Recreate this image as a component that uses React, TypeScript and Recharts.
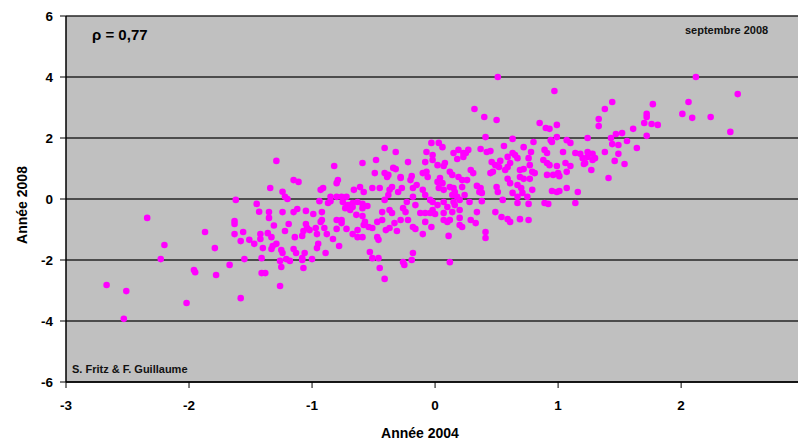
import React from "react";
import {
  ScatterChart,
  Scatter,
  XAxis,
  YAxis,
  CartesianGrid,
} from "recharts";

// [Année 2004, Année 2008] pairs, grouped by region
const lowTail: [number, number][] = [
  [-2.67, -2.82], [-2.51, -3.02], [-2.53, -3.93], [-2.34, -0.62], [-2.23, -1.97],
  [-2.2, -1.51], [-2.02, -3.41], [-1.96, -2.33], [-1.95, -2.4], [-1.87, -1.08],
  [-1.79, -1.61], [-1.78, -2.49], [-1.67, -2.16], [-1.62, -0.03], [-1.63, -0.82],
  [-1.63, -0.72], [-1.63, -1.15], [-1.58, -3.25], [-1.58, -1.38], [-1.55, -1.97],
  [-1.56, -1.08], [-1.51, -1.34], [-1.47, -1.47], [-1.45, -0.16], [-1.43, -0.42],
  [-1.41, -1.94], [-1.41, -2.43], [-1.38, -2.43], [-1.42, -1.15], [-1.42, -1.31],
  [-1.4, -1.61], [-1.36, -1.12], [-1.33, -1.25], [-1.34, 0.36], [-1.35, -0.43],
  [-1.35, -0.62], [-1.31, -0.87], [-1.32, -1.54], [-1.29, -1.47], [-1.33, -1.64],
  [-1.29, 1.25],
];

const coreLeft: [number, number][] = [
  [-1.25, -1.67], [-1.24, -1.77], [-1.26, -2.85], [-1.25, -2.23], [-1.26, -2.03],
  [-1.24, 0.24], [-1.24, -0.43], [-1.22, -1.05], [-1.2, 0.0], [-1.22, 0.07],
  [-1.21, -1.97], [-1.18, -2.03], [-1.19, -0.82], [-1.15, 0.62], [-1.11, 0.56],
  [-1.14, -1.25], [-1.15, -1.64], [-1.13, -1.77], [-1.15, -0.43], [-1.12, -0.33],
  [-1.08, -2.0], [-1.07, -2.26], [-1.06, -1.77], [-1.08, -1.21], [-1.07, -1.05],
  [-1.05, -0.39], [-1.05, -0.82], [-1.04, -0.95], [-1.02, -1.02], [-0.99, -0.49],
  [-1.0, -1.97], [-1.08, -1.94], [-0.97, -0.95], [-0.96, -1.15], [-0.95, -1.47],
  [-0.96, -1.61], [-0.93, -0.75], [-0.94, -0.07], [-0.93, 0.3], [-0.91, 0.36],
  [-0.92, -0.43], [-0.92, -0.69], [-0.89, -1.77], [-0.88, -1.15], [-0.9, -0.95],
  [-0.87, -0.13], [-0.85, 0.07], [-0.85, -0.07], [-0.83, -1.31], [-0.82, 1.08],
  [-0.8, 0.52], [-0.79, 0.62], [-0.78, -1.54], [-0.8, 0.07], [-0.76, 0.07],
  [-0.76, -0.79], [-0.8, -0.98], [-0.8, -0.69], [-0.76, -0.69], [-0.75, -0.1],
  [-0.73, -0.3], [-0.72, 0.07], [-0.71, -0.2], [-0.69, -0.36], [-0.72, -0.98],
];

const coreMid: [number, number][] = [
  [-0.67, -0.26], [-0.67, -0.13], [-0.67, -1.15], [-0.66, 0.3], [-0.64, -0.52],
  [-0.63, -1.02], [-0.63, -1.25], [-0.63, -0.1], [-0.61, 0.39], [-0.59, -0.3],
  [-0.59, -0.16], [-0.59, -1.25], [-0.59, 1.18], [-0.58, 0.23], [-0.59, -0.56],
  [-0.57, -0.75], [-0.58, -0.85], [-0.55, -0.23], [-0.54, -0.92], [-0.51, -0.95],
  [-0.53, -1.74], [-0.51, -1.94], [-0.51, 0.36], [-0.49, 0.85], [-0.48, 1.28],
  [-0.47, -0.75], [-0.47, -1.25], [-0.46, -1.34], [-0.46, -1.94], [-0.45, -2.26],
  [-0.45, 0.36], [-0.43, -0.43], [-0.43, -0.69], [-0.41, -2.62], [-0.41, 0.85],
  [-0.39, 0.72], [-0.38, 0.79], [-0.41, 1.67], [-0.41, -0.03], [-0.38, 0.13],
  [-0.37, 0.3], [-0.35, 0.39], [-0.4, -1.02], [-0.37, -0.95], [-0.37, -0.36],
  [-0.35, -0.46], [-0.34, 1.02], [-0.32, 0.98], [-0.32, 1.54], [-0.33, -0.79],
  [-0.31, -1.05], [-0.3, 0.23], [-0.27, 0.36], [-0.28, 0.69], [-0.28, -0.69],
  [-0.26, -0.3], [-0.26, -2.07], [-0.28, 0.72], [-0.22, 1.21], [-0.25, -2.16],
  [-0.19, -2.0], [-0.18, -1.77], [-0.18, -0.92], [-0.16, -0.98], [-0.22, -0.69],
  [-0.24, -0.43], [-0.23, -0.1], [-0.18, 0.07], [-0.16, -0.2], [-0.18, 0.36],
  [-0.15, 0.46], [-0.19, 0.75], [-0.2, 0.62], [-0.12, -0.46], [-0.1, -1.15],
  [-0.08, -0.75], [-0.08, -0.46], [-0.1, 0.3], [-0.08, 0.13], [-0.04, -0.03],
  [-0.02, -0.1], [-0.06, 0.72], [-0.07, 0.89], [-0.1, 0.85], [-0.07, 1.54],
  [-0.08, 1.21], [-0.02, 1.44], [-0.02, 1.28], [-0.03, 1.84], [-0.04, -0.46],
  [-0.03, -0.92], [-0.02, -0.36],
];

const coreRight: [number, number][] = [
  [0.0, -0.49], [0.03, 1.84], [0.06, 1.7], [0.02, 0.56], [0.04, 0.69],
  [0.06, 0.52], [0.03, 0.36], [0.07, 0.3], [0.02, 1.11], [0.07, 1.08],
  [0.08, 1.18], [0.02, -0.2], [0.07, -0.1], [0.1, -0.26], [0.07, -0.46],
  [0.07, -0.69], [0.1, -0.75], [0.12, -0.69], [0.14, -0.43], [0.16, -0.2],
  [0.11, -1.21], [0.12, -2.07], [0.12, 0.89], [0.14, 0.79], [0.12, 0.39],
  [0.15, 0.36], [0.16, 0.23], [0.14, 0.13], [0.15, -0.1], [0.18, 0.07],
  [0.15, 1.51], [0.19, 1.61], [0.23, 1.51], [0.27, 1.61], [0.25, 1.51],
  [0.18, 1.31], [0.23, 1.38], [0.19, 0.72], [0.22, 0.62], [0.26, 0.62],
  [0.22, 0.39], [0.24, 0.13], [0.2, -0.36], [0.2, -0.85], [0.22, -0.92],
  [0.2, -0.03], [0.2, -0.62], [0.28, -0.1], [0.29, 0.95], [0.31, 0.85],
  [0.29, -0.69], [0.33, -0.79], [0.32, 2.95], [0.34, 0.43], [0.37, 0.36],
  [0.36, 0.23], [0.38, 0.2], [0.38, -0.07], [0.34, -0.43], [0.37, 1.64],
  [0.4, 2.69], [0.41, 2.03], [0.41, -1.08], [0.41, -1.28], [0.42, 1.54],
  [0.45, 1.57], [0.46, 1.21], [0.49, 1.11], [0.47, 0.89], [0.45, 0.85],
  [0.5, 0.39], [0.51, 0.23], [0.49, -0.43], [0.5, 2.59], [0.51, 4.0],
];

const upperTail: [number, number][] = [
  [0.53, 1.25], [0.52, 1.05], [0.54, -0.59], [0.55, -0.03], [0.56, 1.74],
  [0.59, 1.38], [0.63, 1.51], [0.65, 1.44], [0.67, 1.34], [0.61, 1.18],
  [0.59, 1.05], [0.57, 0.95], [0.59, -0.66], [0.61, -0.75], [0.61, 0.52],
  [0.59, 0.66], [0.63, 1.97], [0.63, 0.2], [0.67, 0.07], [0.67, -0.13],
  [0.67, 0.46], [0.7, 0.36], [0.71, 0.2], [0.69, 0.95], [0.72, 0.98],
  [0.69, 0.72], [0.72, 0.66], [0.69, -0.66], [0.72, 1.7], [0.76, 1.34],
  [0.77, 1.11], [0.78, 1.54], [0.79, 0.89], [0.81, 0.85], [0.77, 0.66],
  [0.79, 0.3], [0.75, 0.07], [0.76, -0.16], [0.76, -0.69], [0.8, 1.87],
  [0.85, 2.49], [0.88, 1.28], [0.91, 1.18], [0.93, 1.11], [0.89, 1.61],
  [0.91, 1.51], [0.91, 0.79], [0.89, -0.13], [0.92, -0.16], [0.9, 2.33],
  [0.93, 2.3], [0.94, 1.93], [0.95, 1.87], [0.99, 2.03], [0.97, 3.54],
  [0.99, 2.43], [0.96, 0.79], [1.01, 0.75], [0.95, 0.26], [0.99, 0.23],
  [1.01, 0.26], [0.99, 1.08], [1.0, 0.85], [1.04, 1.54], [1.06, 1.18],
  [1.07, 0.89], [1.1, 1.08], [1.07, 0.36], [1.07, 1.93], [1.1, 1.84],
  [1.14, 1.51], [1.14, -0.13], [1.16, 0.23], [1.18, 1.48], [1.24, 1.54],
  [1.24, 1.38], [1.28, 1.48], [1.3, 1.34], [1.2, 1.34], [1.21, 1.15],
  [1.28, 1.28], [1.22, 1.18], [1.27, 0.95], [1.24, 2.0], [1.33, 2.62],
  [1.33, 2.39], [1.38, 2.95], [1.44, 3.18], [1.38, 1.54], [1.43, 2.0],
  [1.47, 2.13], [1.52, 2.16], [1.44, 1.8], [1.49, 1.77], [1.49, 1.48],
  [1.46, 1.25], [1.41, 0.69], [1.54, 1.15], [1.56, 1.9], [1.61, 2.3],
  [1.64, 1.67], [1.72, 2.07], [1.7, 2.49], [1.76, 2.46], [1.81, 2.43],
  [1.72, 2.79], [1.72, 2.69], [1.77, 3.11], [2.01, 2.79], [2.06, 3.18],
  [2.09, 2.66], [2.12, 4.0], [2.24, 2.69], [2.4, 2.2], [2.46, 3.44],
];

const xTicks = [-3, -2, -1, 0, 1, 2];
const yTicks = [-6, -4, -2, 0, 2, 4, 6];

const points = [...lowTail, ...coreLeft, ...coreMid, ...coreRight, ...upperTail].map(
  ([x, y]) => ({ x, y })
);

const FONT = "'Liberation Sans', Arial, sans-serif";
const MAGENTA = "#FF00FF";

const Dot = (props: any) => (
  <circle cx={props.cx} cy={props.cy} r={3.3} fill={MAGENTA} />
);

export default function App() {
  return (
    <div
      style={{
        position: "absolute",
        left: 0,
        top: 0,
        width: 798,
        height: 442,
        background: "#fff",
        fontFamily: FONT,
      }}
    >
      <ScatterChart
        width={798}
        height={442}
        margin={{ top: 16, right: 0, left: 10, bottom: 0 }}
      >
        <CartesianGrid
          vertical={false}
          fill="#C0C0C0"
          fillOpacity={1}
          stroke="#262626"
          strokeWidth={1.5}
        />
        <XAxis
          type="number"
          dataKey="x"
          domain={[-3, 2.95]}
          ticks={xTicks}
          allowDataOverflow
          height={60}
          axisLine={{ stroke: "#000", strokeWidth: 1.5 }}
          tickLine={{ stroke: "#000" }}
          tickSize={6}
          tickMargin={12}
          tick={{ fill: "#000", fontSize: 13.5, fontWeight: 700, fontFamily: FONT }}
          label={{
            value: "Année 2004",
            position: "insideBottom",
            offset: 4,
            dx: -12,
            style: { fill: "#000", fontSize: 14, fontWeight: 700, fontFamily: FONT },
          }}
        />
        <YAxis
          type="number"
          dataKey="y"
          domain={[-6, 6]}
          ticks={yTicks}
          allowDataOverflow
          width={56}
          axisLine={{ stroke: "#000", strokeWidth: 1.5 }}
          tickLine={{ stroke: "#000" }}
          tickSize={6}
          tickMargin={7}
          tick={{ fill: "#000", fontSize: 13.5, fontWeight: 700, fontFamily: FONT }}
          label={{
            value: "Année 2008",
            angle: -90,
            position: "insideLeft",
            offset: 12,
            dy: 6,
            style: {
              fill: "#000",
              fontSize: 14,
              fontWeight: 700,
              fontFamily: FONT,
              textAnchor: "middle",
            },
          }}
        />
        <Scatter data={points} shape={Dot} isAnimationActive={false} />
      </ScatterChart>
      <div
        style={{
          position: "absolute",
          left: 92,
          top: 26,
          fontSize: 15,
          fontWeight: 700,
          color: "#000",
        }}
      >
        ρ = 0,77
      </div>
      <div
        style={{
          position: "absolute",
          left: 685,
          top: 24,
          fontSize: 11,
          fontWeight: 700,
          color: "#111",
        }}
      >
        septembre 2008
      </div>
      <div
        style={{
          position: "absolute",
          left: 72,
          top: 363,
          fontSize: 11,
          fontWeight: 700,
          color: "#111",
        }}
      >
        S. Fritz &amp; F. Guillaume
      </div>
    </div>
  );
}
